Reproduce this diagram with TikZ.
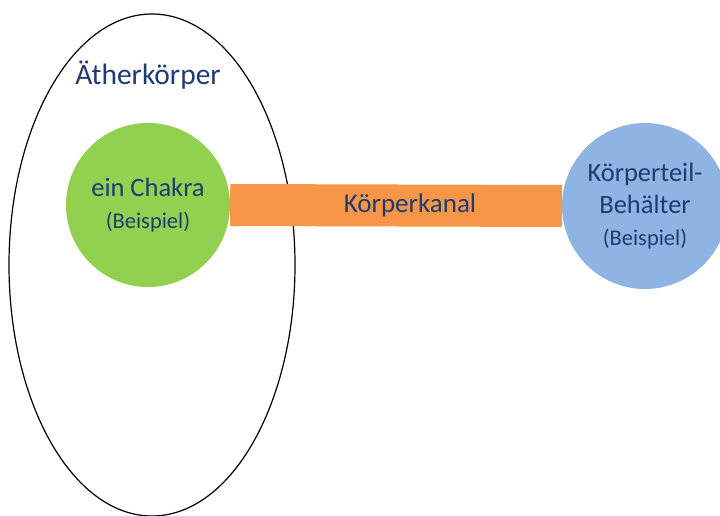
\documentclass[tikz,border=0pt]{standalone}
\usepackage{fontspec}
\setmainfont{Carlito}
\usetikzlibrary{backgrounds}
\definecolor{textblau}{HTML}{1F3B73}
\definecolor{chakragruen}{HTML}{92D050}
\definecolor{kanalorange}{HTML}{F79646}
\definecolor{behaelterblau}{HTML}{8DB4E2}
\newcommand\kleinschrift{\fontsize{22.5}{32}\selectfont}
\tikzset{
  kreis/.style={circle, minimum size=164pt, inner sep=0pt, align=center,
    text=textblau, font=\fontsize{26.5}{32}\selectfont},
  kanal/.style={kanalorange, line width=42pt},
}
\begin{document}
\begin{tikzpicture}[x=1pt,y=1pt]
\useasboundingbox (0,0) rectangle (720,516);

\node[kreis, fill=chakragruen] (chakra) at (148,311) {ein Chakra\\{\kleinschrift(Beispiel)}};
\node[kreis, fill=behaelterblau, minimum size=166pt] (behaelter) at (645,310)
  {Körperteil-\\Behälter\\{\kleinschrift(Beispiel)}};
\node[text=textblau, font=\fontsize{29.5}{35}\selectfont] (aether) at (148,441) {Ätherkörper};

\begin{scope}[on background layer]
\draw[line width=1.2pt] (152,251) ellipse[x radius=143, y radius=251];
\draw[kanal] (chakra.east) -- (behaelter.west)
  node[midway, xshift=14pt, text=textblau, font=\fontsize{27}{32}\selectfont] (kanaltext) {Körperkanal};
\end{scope}
\end{tikzpicture}
\end{document}
